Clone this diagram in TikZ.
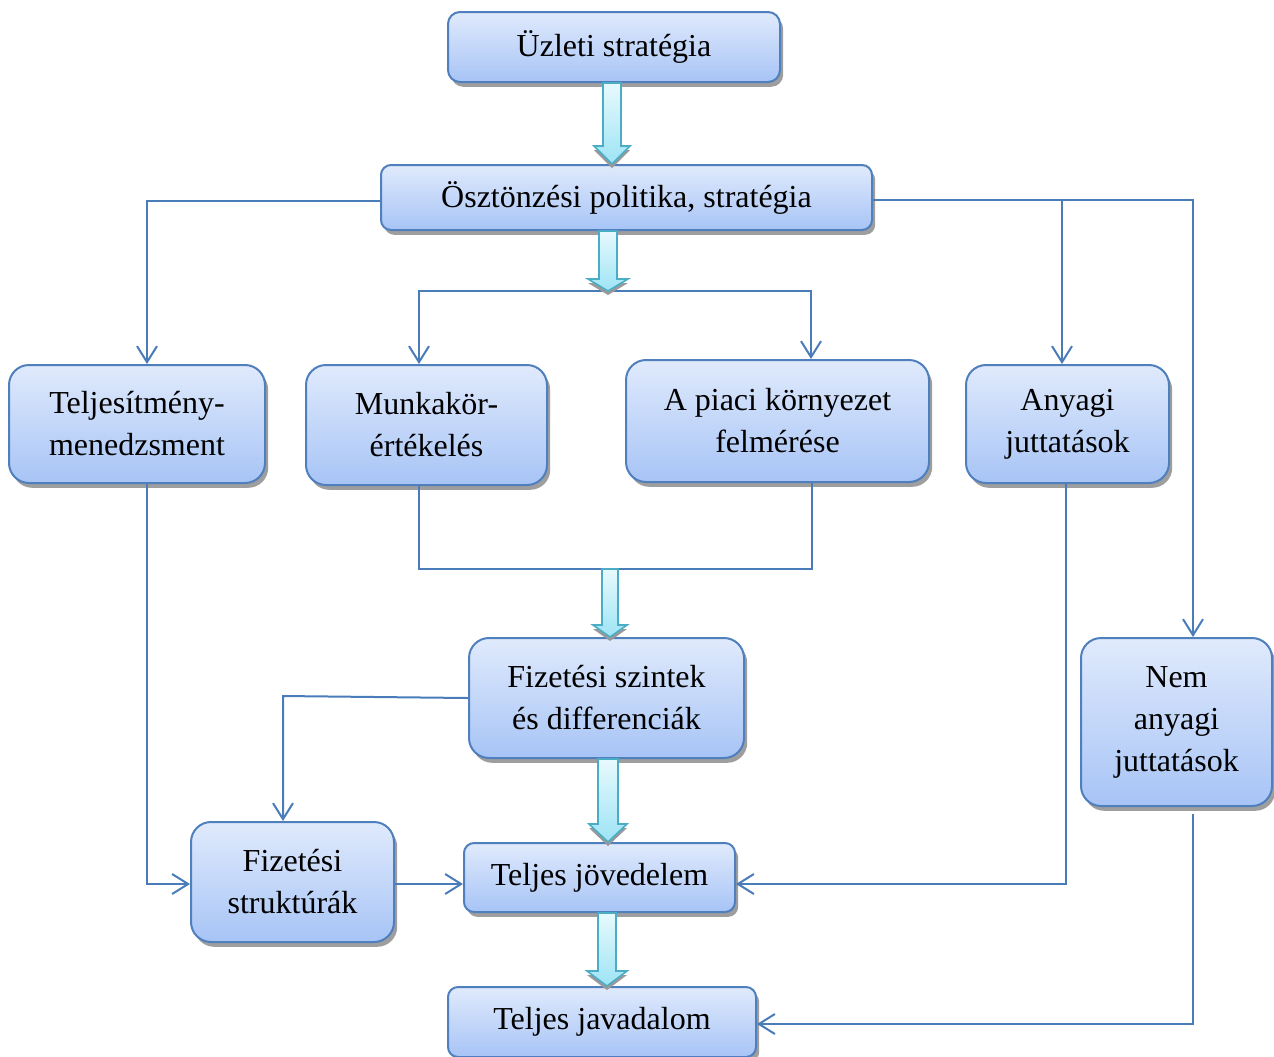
\documentclass[tikz,border=0pt]{standalone}
\usepackage{fontspec}
\setmainfont{Liberation Serif}
\usetikzlibrary{arrows.meta,shadows,calc}
\definecolor{boxtop}{HTML}{E0EAFC}
\definecolor{boxbot}{HTML}{A7C4F6}
\definecolor{boxline}{HTML}{4F7FBC}
\definecolor{connline}{HTML}{4A7CBA}
\definecolor{arrtop}{HTML}{E8F9FD}
\definecolor{arrbot}{HTML}{9DE4F5}
\definecolor{arrline}{HTML}{4BACC6}
\newcommand\blockarr[6]{% x(px), from coord, to coord, shaft half, head half, head length (px)
  \path[barrow] let \p1=(#2), \p2=(#3) in
    (#1*0.5pt-#4*0.5pt,\y1) -- (#1*0.5pt+#4*0.5pt,\y1) -- (#1*0.5pt+#4*0.5pt,\y2+#6*0.5pt)
    -- (#1*0.5pt+#5*0.5pt,\y2+#6*0.5pt) -- (#1*0.5pt,\y2) -- (#1*0.5pt-#5*0.5pt,\y2+#6*0.5pt)
    -- (#1*0.5pt-#4*0.5pt,\y2+#6*0.5pt) -- cycle;}
\tikzset{
  box/.style={draw=boxline, line width=1pt, top color=boxtop, bottom color=boxbot,
    rounded corners=#1, align=center, inner sep=0pt,
    font=\fontsize{16}{21}\selectfont,
    drop shadow={shadow xshift=1.6pt, shadow yshift=-2.4pt, fill=black!38, opacity=1}},
  box/.default=10pt,
  barrow/.style={draw=arrline, line width=0.8pt, top color=arrtop, bottom color=arrbot,
    drop shadow={shadow xshift=0pt, shadow yshift=-2pt, fill=black!40, opacity=1}},
  conn/.style={draw=connline, line width=1pt},
  tip/.style={-{Straight Barb[length=8pt,width=10pt,line width=1pt]}}
}
\begin{document}
\begin{tikzpicture}[x=0.5pt,y=-0.5pt]
\useasboundingbox (0,0) rectangle (1274,1056);
% boxes
\node[box=6pt, minimum width=166pt, minimum height=35pt] (ua) at (614,47) {Üzleti stratégia};
\node[box=5pt, minimum width=245.5pt, minimum height=32.5pt] (oe) at (626.5,197.5) {Ösztönzési politika, stratégia};
\node[box, minimum width=128pt, minimum height=59pt] (tm) at (137,424) {Teljesítmény-\\menedzsment};
\node[box, minimum width=120.5pt, minimum height=60pt] (mk) at (426.5,425) {Munkakör-\\értékelés};
\node[box, minimum width=151.5pt, minimum height=61pt] (pk) at (777.5,421) {A piaci környezet\\felmérése};
\node[box, minimum width=101.5pt, minimum height=59pt] (aj) at (1067.5,424) {Anyagi\\juttatások};
\node[box, minimum width=137.5pt, minimum height=60pt] (fs) at (606.5,698) {Fizetési szintek\\és differenciák};
\node[box, minimum width=95.5pt, minimum height=84pt] (na) at (1176.5,722) {Nem\\anyagi\\juttatások};
\node[box, minimum width=101.5pt, minimum height=60pt] (fst) at (292.5,882) {Fizetési\\struktúrák};
\node[box=5pt, minimum width=135.5pt, minimum height=34.5pt] (tj) at (599.5,877.5) {Teljes jövedelem};
\node[box=5pt, minimum width=154pt, minimum height=35pt] (tjav) at (602,1022) {Teljes javadalom};
% helper coordinates
\coordinate (fork) at (608,291);
\coordinate (jn) at (610,569);
\coordinate (oeL) at ([yshift=-1.75pt]oe.west);
\coordinate (oeR) at ([yshift=-1.25pt]oe.east);
\coordinate (tmin) at ([xshift=5pt]tm.north);
\coordinate (tmout) at ([xshift=5pt]tm.south);
\coordinate (mkin) at ([xshift=-3.75pt]mk.north);
\coordinate (mkout) at ([xshift=-3.75pt]mk.south);
\coordinate (pkin) at ([xshift=16.75pt]pk.north);
\coordinate (pkout) at ([xshift=17.25pt]pk.south);
\coordinate (ajin) at ([xshift=-2.75pt]aj.north);
\coordinate (ajout) at ([xshift=-0.75pt]aj.south);
\coordinate (najin) at ([xshift=8.25pt]na.north);
\coordinate (najout) at ([xshift=8.25pt,yshift=-3.5pt]na.south);
\coordinate (fstin) at ([xshift=-4.75pt]fst.north);
\coordinate (fstW) at ([yshift=-1pt]fst.west);
\coordinate (fstE) at ([yshift=-1pt]fst.east);
\coordinate (tjW) at ([yshift=-3.25pt]tj.west);
\coordinate (tjE) at ([yshift=-3.25pt]tj.east);
\coordinate (tjavE) at ([yshift=-1pt]tjav.east);
% connectors
\draw[conn,tip] (oeL) -| (tmin);
\draw[conn,tip] (fork) -| (mkin);
\draw[conn,tip] (fork) -| (pkin);
\draw[conn,tip] (oeR) -| (najin);
\draw[conn,tip] (oeR -| ajin) -- (ajin);
\draw[conn] (mkout) |- (jn) -| (pkout);
\draw[conn,tip] (tmout) |- (fstW);
\draw[conn,tip] (fs.west) -- ([yshift=1pt]fs.west -| fstin) -- (fstin);
\draw[conn,tip] (fstE) -- (tjW);
\draw[conn,tip] (ajout) |- (tjE);
\draw[conn,tip] (najout) |- (tjavE);
% block arrows
\blockarr{612}{ua.south}{oe.north}{9}{18}{18}
\blockarr{608}{oe.south}{fork}{9}{20}{12}
\blockarr{610}{jn}{fs.north}{8}{17}{12}
\blockarr{608}{fs.south}{tj.north}{10}{19}{18}
\blockarr{607}{tj.south}{tjav.north}{9}{20}{15}
\end{tikzpicture}
\end{document}
